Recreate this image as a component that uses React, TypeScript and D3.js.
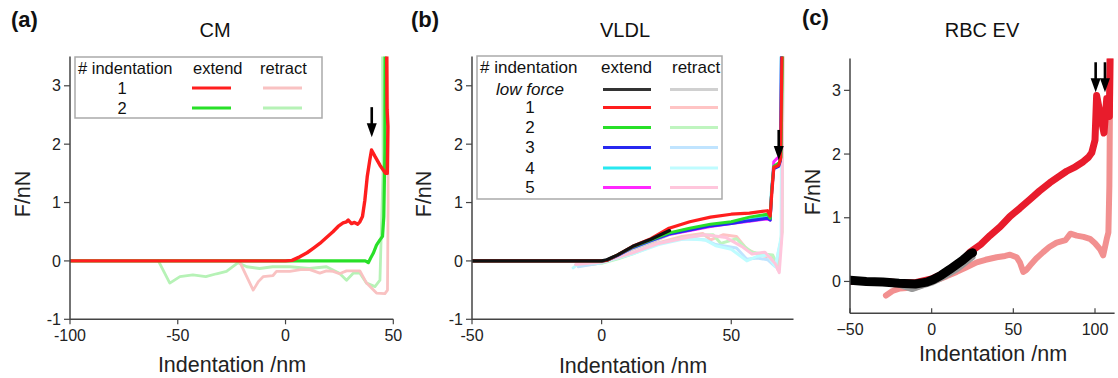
import { scaleLinear, line } from 'd3';

type Pt = [number, number];

// ---- panel (a) CM ----
const cmTicksX = [-100, -50, 0, 50];
const cmTicksY = [-1, 0, 1, 2, 3];
const cmLegendRows = ['1', '2'];
const cmExtend1: Pt[] = [[-100, 0], [-60, 0], [-20, 0], [0, 0], [3, 0.01], [6.6, 0.07], [10, 0.14], [13, 0.22], [15.9, 0.3], [19, 0.4], [22, 0.5], [24.4, 0.59], [26.7, 0.65], [28.3, 0.67], [29.1, 0.7], [30.6, 0.64], [32, 0.66], [33.5, 0.63], [34.5, 0.67], [35.7, 0.76], [36.8, 1.04], [37.9, 1.44], [39.1, 1.73], [39.9, 1.9], [41.5, 1.79], [43.8, 1.64], [46.4, 1.5], [47.2, 1.5], [47.5, 2.3], [47.1, 2.6], [46.9, 3.7]];
const cmExtend2: Pt[] = [[-100, 0], [-50, 0], [0, 0], [37, 0], [38.4, -0.03], [39.5, 0.05], [40.7, 0.13], [42.2, 0.27], [43.8, 0.36], [45, 0.42], [45.6, 0.76], [46.1, 1.9], [46.2, 3.7]];
const cmRetract1: Pt[] = [[-21.5, 0], [-15, -0.5], [-12.5, -0.35], [-10.4, -0.27], [-5.8, -0.25], [-4.2, -0.18], [2, -0.18], [7, -0.15], [11.3, -0.15], [15.9, -0.21], [19, -0.17], [22.1, -0.18], [25, -0.22], [28.3, -0.17], [34.5, -0.17], [37.6, -0.38], [42.2, -0.55], [46.1, -0.56], [47.3, -0.5], [47.6, 1], [47.5, 2.5], [47.2, 3.7]];
const cmRetract2: Pt[] = [[-59, 0], [-53.7, -0.38], [-49, -0.27], [-43, -0.24], [-37, -0.27], [-32, -0.22], [-27.4, -0.18], [-22, -0.03], [-18, -0.1], [-12, -0.13], [-6, -0.1], [2, -0.1], [11, -0.13], [19, -0.1], [25, -0.21], [28.3, -0.33], [31.4, -0.21], [34.5, -0.21], [37.6, -0.38], [41.5, -0.44], [43.8, -0.33], [45.3, 1.6], [45, 3.7]];
const cmArrows: Pt[] = [[40, 2.12]];

// ---- panel (b) VLDL ----
const vlTicksX = [-50, 0, 50];
const vlTicksY = [-1, 0, 1, 2, 3];
const vlLegendRows = ['low force', '1', '2', '3', '4', '5'];
const vlLowExtend: Pt[] = [[-50, 0], [0, 0], [2, 0.02], [6, 0.1], [12, 0.25], [19, 0.37], [26.2, 0.52]];
const vlExtend1: Pt[] = [[-50, 0], [0, 0], [2, 0.01], [6, 0.1], [12, 0.25], [19, 0.38], [26, 0.56], [34, 0.67], [42, 0.75], [50, 0.8], [57, 0.82], [64, 0.86], [65, 0.77], [65.7, 1.2], [66.4, 1.6], [68.3, 1.64], [69, 1.75], [69.6, 3.7]];
const vlExtend2: Pt[] = [[-50, 0], [0, 0], [2, 0.01], [6, 0.1], [12, 0.24], [19, 0.36], [26, 0.48], [34, 0.56], [42, 0.63], [50, 0.67], [57, 0.75], [64, 0.8], [65, 0.73], [65.6, 1.2], [66.4, 1.62], [68.5, 1.68], [69.2, 1.78], [69.8, 3.7]];
const vlExtend3: Pt[] = [[-50, 0], [0, 0], [2, 0.01], [6, 0.09], [12, 0.23], [19, 0.35], [26, 0.46], [34, 0.53], [42, 0.6], [50, 0.64], [57, 0.69], [64, 0.73], [65, 0.7], [65.6, 1.2], [66.4, 1.58], [68.3, 1.62], [69, 1.72], [69.4, 3.7]];
const vlExtend4: Pt[] = [[-50, 0], [0, 0], [2, 0.01], [6, 0.09], [12, 0.23], [19, 0.35], [26, 0.46], [34, 0.54], [42, 0.61], [50, 0.66], [57, 0.7], [64, 0.76], [65, 0.72], [65.5, 1.2], [66.3, 1.6], [68.3, 1.65], [69, 1.75], [69.3, 3.7]];
const vlExtend5: Pt[] = [[-50, 0], [0, 0], [2, 0.01], [6, 0.09], [12, 0.23], [19, 0.35], [26, 0.45], [34, 0.52], [42, 0.59], [50, 0.64], [57, 0.68], [64, 0.72], [65, 0.7], [65.6, 1.2], [66.4, 1.7], [67.5, 1.75], [69, 1.8], [69.4, 3.7]];
const vlLowRetract: Pt[] = [[-8, -0.05], [0, -0.02], [6, 0.06], [12, 0.2], [20, 0.33], [26, 0.45]];
const vlRetract1: Pt[] = [[-10, -0.08], [-4, -0.06], [0, -0.03], [6, 0.05], [12, 0.13], [21, 0.3], [31, 0.42], [39, 0.47], [42, 0.36], [47, 0.45], [52, 0.42], [56, 0.2], [61, 0.1], [66, 0.05], [68, -0.15], [69.6, 0.5], [69.8, 3.7]];
const vlRetract2: Pt[] = [[-10, -0.07], [0, -0.04], [6, 0.03], [12, 0.12], [21, 0.28], [30, 0.38], [38, 0.44], [43, 0.45], [46, 0.3], [52, 0.38], [55, 0.25], [58, 0.15], [62, 0.12], [66, 0.1], [68, -0.1], [69.5, 0.5], [70, 3.7]];
const vlRetract3: Pt[] = [[-9, -0.1], [0, -0.03], [12, 0.13], [22, 0.3], [30, 0.37], [36, 0.38], [40, 0.36], [44, 0.28], [52, 0.22], [56, 0.03], [60, 0.05], [64, 0.02], [67, -0.1], [69.4, 0.4], [69.6, 3.7]];
const vlRetract4: Pt[] = [[-11, -0.12], [-9, -0.05], [0, -0.03], [12, 0.12], [22, 0.28], [32, 0.38], [40, 0.36], [44, 0.26], [50, 0.2], [56, 0.0], [60, 0.08], [64, 0.1], [67, -0.1], [69.2, 0.4], [69.5, 3.7]];
const vlRetract5: Pt[] = [[-10, -0.06], [0, -0.02], [12, 0.14], [22, 0.3], [33, 0.4], [40, 0.45], [48, 0.4], [54, 0.25], [58, 0.12], [63, 0.15], [67, -0.05], [68.5, -0.2], [69.5, 0.4], [70, 3.7]];
const vlArrows: Pt[] = [[68.3, 1.73]];

// ---- panel (c) RBC EV ----
const rbTicksX = [-50, 0, 50, 100];
const rbTicksY = [0, 1, 2, 3];
const rbExtend: Pt[] = [[-50, 0], [-40, 0], [-30, 0], [-20, -0.02], [-10, -0.02], [0, 0.04], [5, 0.1], [11, 0.18], [19, 0.33], [23.5, 0.46], [30, 0.58], [35.7, 0.72], [42, 0.86], [47.9, 1.02], [54, 1.15], [60.2, 1.29], [66, 1.42], [72.4, 1.55], [78, 1.65], [82.6, 1.73], [88, 1.8], [92.8, 1.88], [96, 1.95], [98, 2.02], [100, 2.22], [101, 2.92], [103, 2.65], [105.5, 2.33], [107.2, 2.87], [108.8, 2.59], [109.3, 3.7]];
const rbLowExtend: Pt[] = [[-50, 0.02], [-40, 0.0], [-30, -0.01], [-20, -0.03], [-10, -0.04], [-3, -0.01], [1, 0.03], [6, 0.1], [11.2, 0.19], [15, 0.26], [19.3, 0.34], [23.5, 0.43], [25, 0.45]];
const rbRetract: Pt[] = [[-28, -0.22], [-24, -0.15], [-19.4, -0.11], [-9.2, -0.09], [-3, -0.03], [3, 0.02], [9, 0.08], [15.3, 0.15], [21, 0.22], [27.6, 0.3], [33, 0.34], [39.8, 0.38], [45, 0.4], [48, 0.42], [52, 0.38], [54, 0.3], [56.1, 0.15], [58, 0.18], [60.2, 0.25], [64, 0.36], [68.3, 0.46], [72, 0.54], [76.5, 0.61], [82, 0.65], [85, 0.75], [88.8, 0.72], [93, 0.7], [96.9, 0.67], [100, 0.6], [103, 0.51], [105, 0.41], [107.2, 0.67], [108.2, 0.77], [108.8, 1.5], [109.2, 2.85], [109.4, 3.7]];
const rbLowRetract: Pt[] = [[-20, -0.05], [-12, -0.12], [-5, -0.06], [0, -0.02], [8, 0.08], [16, 0.2], [25, 0.38]];
const rbArrows: Pt[] = [[100.4, 2.97], [106.1, 2.97]];

const FONT = 'Liberation Sans, Arial, sans-serif';

interface Series { pts: Pt[]; color: string; w: number }
interface PanelProps {
  id: string;
  tag: string; tagX: number; tagY: number;
  title: string; titleX: number;
  xr: [number, number]; yr: [number, number];
  xd: [number, number]; yd: [number, number];
  xt: number[]; yt: number[];
  unicodeMinus?: boolean; xTickIn?: boolean;
  series: Series[]; arrows: Pt[];
  xLabelX: number; xLabelY: number; yLabelX: number;
  children?: any;
}

function Panel(p: PanelProps) {
  const x = scaleLinear().domain(p.xd).range(p.xr);
  const y = scaleLinear().domain(p.yd).range(p.yr);
  const ln = line<Pt>().x((d) => x(d[0])).y((d) => y(d[1]));
  const fmt = (v: number) => (v < 0 ? (p.unicodeMinus ? '\u2212' : '-') + Math.abs(v) : String(v));
  const axisCol = '#444';
  const [x0, x1] = p.xr;
  const [yb, yt] = p.yr;
  return (
    <g fontFamily={FONT}>
      <text x={p.tagX} y={p.tagY} fontSize={22} fontWeight="bold" fill="#111">{p.tag}</text>
      <text x={p.titleX} y={37} fontSize={20} textAnchor="middle" fill="#111">{p.title}</text>
      <defs>
        <clipPath id={'clip-' + p.id}>
          <rect x={x0} y={yt} width={x1 - x0 + 4} height={yb - yt} />
        </clipPath>
      </defs>
      <g clipPath={`url(#clip-${p.id})`}>
        {p.series.map((s, i) => (
          <path key={i} d={ln(s.pts) || ''} fill="none" stroke={s.color} strokeWidth={s.w} strokeLinejoin="round" strokeLinecap="round" />
        ))}
      </g>
      {p.arrows.map((a, i) => {
        const ax = x(a[0]);
        const ay = y(a[1]);
        return (
          <g key={i} fill="#000">
            <rect x={ax - 1.3} y={ay - 30} width={2.6} height={18} />
            <path d={`M${ax - 5},${ay - 14}L${ax + 5},${ay - 14}L${ax},${ay}Z`} />
          </g>
        );
      })}
      {p.children}
      <line x1={x0} x2={x0} y1={yb} y2={yt} stroke={axisCol} strokeWidth={1.5} />
      <line x1={x0} x2={x1} y1={yb} y2={yb} stroke={axisCol} strokeWidth={1.5} />
      {p.yt.map((v) => (
        <g key={'y' + v}>
          <line x1={x0 - 6} x2={x0} y1={y(v)} y2={y(v)} stroke={axisCol} strokeWidth={1.2} />
          <text x={x0 - 9} y={y(v)} dy="0.35em" fontSize={16} textAnchor="end" fill="#222">{fmt(v)}</text>
        </g>
      ))}
      {p.xt.map((v) => (
        <g key={'x' + v}>
          <line x1={x(v)} x2={x(v)} y1={yb} y2={p.xTickIn ? yb - 5 : yb + 5} stroke={axisCol} strokeWidth={1.2} />
          <text x={x(v)} y={yb + 22} fontSize={16} textAnchor="middle" fill="#222">{fmt(v)}</text>
        </g>
      ))}
      <text x={p.xLabelX} y={p.xLabelY} fontSize={21.5} textAnchor="middle" fill="#222">Indentation /nm</text>
      <text transform={`translate(${p.yLabelX},${(yb + yt) / 2 + 6}) rotate(-90)`} fontSize={21.5} textAnchor="middle" fill="#222">F/nN</text>
    </g>
  );
}

interface LegendProps {
  box: [number, number, number, number];
  fs: number; headY: number; rowYs: number[]; rows: string[];
  labelX: number; extX: [number, number]; retX: [number, number];
  extCols: string[]; retCols: string[];
  extHeadX: number; retHeadX: number;
}

function Legend(l: LegendProps) {
  const [bx, by, bw, bh] = l.box;
  return (
    <g fontFamily={FONT} fill="#111">
      <rect x={bx} y={by} width={bw} height={bh} fill="#fff" stroke="#aaa" strokeWidth={1.5} />
      <text x={bx + 3} y={l.headY} fontSize={l.fs}># indentation</text>
      <text x={l.extHeadX} y={l.headY} fontSize={l.fs}>extend</text>
      <text x={l.retHeadX} y={l.headY} fontSize={l.fs}>retract</text>
      {l.rows.map((r, i) => (
        <g key={r}>
          <text x={l.labelX} y={l.rowYs[i] + 5.5} fontSize={l.fs} textAnchor="middle" fontStyle={r === 'low force' ? 'italic' : 'normal'}>{r}</text>
          <line x1={l.extX[0]} x2={l.extX[1]} y1={l.rowYs[i]} y2={l.rowYs[i]} stroke={l.extCols[i]} strokeWidth={3} />
          <line x1={l.retX[0]} x2={l.retX[1]} y1={l.rowYs[i]} y2={l.rowYs[i]} stroke={l.retCols[i]} strokeWidth={3} />
        </g>
      ))}
    </g>
  );
}

const RED = '#ff1e1e';
const GREEN = '#28e028';
const LRED = '#f9c2c2';
const LGREEN = '#b6f2b6';

export default function App() {
  const vlExtCols = ['#333333', RED, GREEN, '#2828f0', '#28e8f0', '#ff28ff'];
  const vlRetCols = ['#d0d0d0', '#ffc4c4', '#bff5bf', '#c0e4ff', '#bffcff', '#ffc6dc'];
  return (
    <svg width={1118} height={378} style={{ position: 'absolute', left: 0, top: 0, background: '#fff' }}>
      <Panel
        id="a" tag="(a)" tagX={11} tagY={27} title="CM" titleX={215}
        xr={[70, 393.3]} yr={[319.3, 56.6]} xd={[-100, 50]} yd={[-1, 3.5]}
        xt={cmTicksX} yt={cmTicksY}
        series={[
          { pts: cmRetract2, color: LGREEN, w: 2.8 },
          { pts: cmRetract1, color: LRED, w: 2.8 },
          { pts: cmExtend2, color: GREEN, w: 3.2 },
          { pts: cmExtend1, color: RED, w: 3.4 },
        ]}
        arrows={cmArrows}
        xLabelX={232} xLabelY={372} yLabelX={30}
      >
        <Legend
          box={[75, 57, 247, 61]} fs={16.5} headY={74} rowYs={[88, 108]} rows={cmLegendRows}
          labelX={122} extX={[192, 231]} retX={[263, 302]} extCols={[RED, GREEN]} retCols={[LRED, LGREEN]}
          extHeadX={193} retHeadX={260}
        />
      </Panel>
      <Panel
        id="b" tag="(b)" tagX={411} tagY={27} title="VLDL" titleX={625}
        xr={[472, 793.5]} yr={[319.3, 56.6]} xd={[-50, 74]} yd={[-1, 3.5]}
        xt={vlTicksX} yt={vlTicksY}
        series={[
          { pts: vlLowRetract, color: vlRetCols[0], w: 3 },
          { pts: vlRetract1, color: vlRetCols[1], w: 3 },
          { pts: vlRetract2, color: vlRetCols[2], w: 3 },
          { pts: vlRetract3, color: vlRetCols[3], w: 3 },
          { pts: vlRetract4, color: vlRetCols[4], w: 3 },
          { pts: vlRetract5, color: vlRetCols[5], w: 3 },
          { pts: vlExtend5, color: vlExtCols[5], w: 3 },
          { pts: vlExtend4, color: vlExtCols[4], w: 3 },
          { pts: vlExtend3, color: vlExtCols[3], w: 3 },
          { pts: vlExtend2, color: vlExtCols[2], w: 3 },
          { pts: vlExtend1, color: vlExtCols[1], w: 3.2 },
          { pts: vlLowExtend, color: '#111', w: 3.2 },
        ]}
        arrows={vlArrows}
        xLabelX={633} xLabelY={373} yLabelX={431}
      >
        <Legend
          box={[477, 56, 245, 143]} fs={17} headY={73} rowYs={[89.5, 107.5, 127.5, 147.5, 168, 187.5]} rows={vlLegendRows}
          labelX={530} extX={[603, 651]} retX={[670, 718]} extCols={vlExtCols} retCols={vlRetCols}
          extHeadX={601} retHeadX={672}
        />
      </Panel>
      <Panel
        id="c" tag="(c)" tagX={802} tagY={25} title="RBC EV" titleX={982}
        xr={[850, 1114.6]} yr={[313.3, 58.5]} xd={[-50, 112]} yd={[-0.5, 3.5]}
        xt={rbTicksX} yt={rbTicksY} unicodeMinus xTickIn
        series={[
          { pts: rbRetract, color: '#f29090', w: 6 },
          { pts: rbLowRetract, color: '#999', w: 6 },
          { pts: rbExtend, color: '#e81c2c', w: 7 },
          { pts: rbLowExtend, color: '#000', w: 9 },
        ]}
        arrows={rbArrows}
        xLabelX={993} xLabelY={361} yLabelX={820}
      />
    </svg>
  );
}
